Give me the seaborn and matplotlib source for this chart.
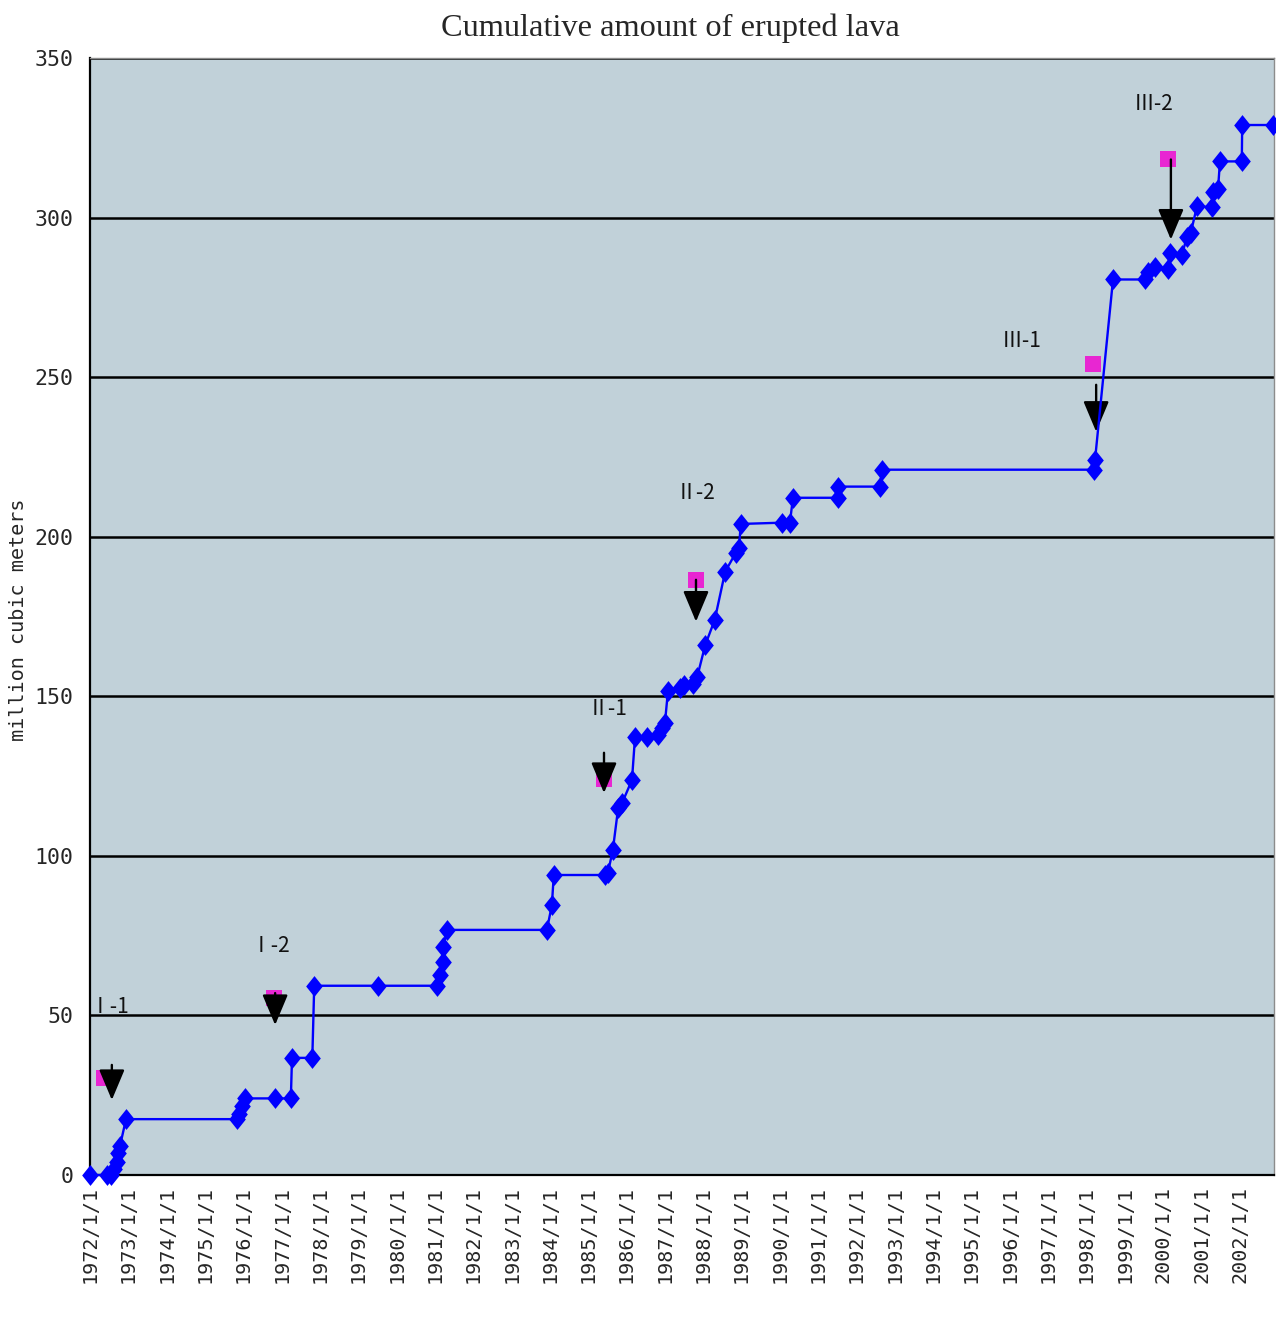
import matplotlib
matplotlib.use("Agg")
import matplotlib.pyplot as plt
import seaborn as sns
import pandas as pd
from matplotlib.path import Path

# ---- data (decimal years, million m^3) ----
years = [1972.00, 1972.45, 1972.55, 1972.62, 1972.70, 1972.74, 1972.78, 1972.94,
         1975.83, 1975.90, 1975.97, 1976.05, 1976.83, 1977.24, 1977.27, 1977.80,
         1977.85, 1979.51, 1981.05, 1981.13, 1981.20, 1981.22, 1981.31,
         1983.92, 1984.05, 1984.10, 1985.44, 1985.51, 1985.64, 1985.78, 1985.88,
         1986.14, 1986.22, 1986.53, 1986.82, 1986.92, 1987.00, 1987.08, 1987.39,
         1987.50, 1987.73, 1987.84, 1988.05, 1988.30, 1988.57, 1988.85, 1988.93,
         1988.98, 1990.05, 1990.26, 1990.34, 1991.51, 1991.52, 1992.61, 1992.66,
         1998.20, 1998.22, 1998.69, 1999.52, 1999.60, 1999.78, 2000.12, 2000.18,
         2000.49, 2000.62, 2000.72, 2000.88, 2001.27, 2001.29, 2001.43, 2001.48,
         2002.05, 2002.06, 2002.86]
volume = [0, 0, 0, 2, 4, 7, 9, 17.5,
          17.5, 19, 21.5, 24, 24, 24, 36.7, 36.7,
          59.3, 59.3, 59.3, 62.7, 66.8, 71.5, 76.8,
          76.8, 84.6, 94, 94, 94.6, 101.8, 115, 116.5,
          123.8, 137.3, 137.3, 138, 140, 141.7, 151.8, 152.5,
          153.5, 154, 156, 166, 174, 189, 195, 196.5,
          204, 204.4, 204.4, 212.2, 212.2, 215.7, 215.7, 221,
          221, 224, 280.6, 280.6, 282.8, 284.6, 284, 289,
          288.4, 294, 295.3, 303.5, 303.3, 308, 309, 317.6,
          317.6, 329, 329]

phase_labels = ["Ⅰ-1", "Ⅰ-2", "Ⅱ-1", "Ⅱ-2", "Ⅲ-1", "Ⅲ-2"]
label_x = [1972.52, 1976.72, 1985.49, 1987.81, 1996.32, 1999.76]
label_y = [52.7, 71.8, 146.1, 213.8, 261.4, 335.7]
square_x = [1972.37, 1976.80, 1985.41, 1987.81, 1998.17, 2000.12]
square_y = [30.4, 55.5, 124.0, 186.5, 254.2, 318.2]
arrow_x = [1972.57, 1976.83, 1985.41, 1987.81, 1998.25, 2000.20]
arrow_top = [34.5, 57.0, 132.3, 186.5, 247.6, 318.2]
arrow_tip = [23.5, 47.0, 119.7, 173.4, 232.9, 293.1]

tick_years = list(range(1972, 2003))
tick_labels = [f"{y}/1/1" for y in tick_years]
y_ticks = [0, 50, 100, 150, 200, 250, 300, 350]

title = "Cumulative amount of erupted lava"
ylabel = "million cubic meters"

# ---- figure ----
sns.set_style("white")
plt.rcParams['font.family'] = ['DejaVu Sans', 'Noto Sans CJK JP']

fig = plt.figure(figsize=(12.76, 13.2), dpi=100)
ax = fig.add_axes([90 / 1276, 145 / 1320, 1184 / 1276, 1117 / 1320])
ax.set_facecolor("#C1D1D9")

df = pd.DataFrame({"year": years, "volume": volume})
diamond = Path([(0, 1), (0.8, 0), (0, -1), (-0.8, 0), (0, 1)],
               [Path.MOVETO, Path.LINETO, Path.LINETO, Path.LINETO, Path.CLOSEPOLY])
sns.lineplot(data=df, x="year", y="volume", estimator=None, sort=False,
             color="#0000FF", linewidth=1.7, marker=diamond, markersize=15,
             markeredgewidth=0, markerfacecolor="#0000FF", ax=ax, zorder=4,
             clip_on=False)

sq = pd.DataFrame({"x": square_x, "y": square_y})
sns.scatterplot(data=sq, x="x", y="y", marker="s", s=125, color="#E826D2",
                linewidth=0, ax=ax, zorder=3)

for xa, yt, yb in zip(arrow_x, arrow_top, arrow_tip):
    ax.annotate("", xy=(xa, yb), xytext=(xa, yt),
                arrowprops=dict(arrowstyle="-|>,head_length=1.0,head_width=0.42",
                                color="black", lw=1.7, mutation_scale=19,
                                shrinkA=0, shrinkB=0), zorder=3.5)

for t, lx, ly in zip(phase_labels, label_x, label_y):
    ax.text(lx, ly, t, ha="center", va="center", fontsize=15,
            family=['Noto Sans CJK JP', 'DejaVu Sans'], color="#111111", zorder=3)

ax.set_xlim(1972.0, 2002.89)
ax.set_ylim(0, 350)
ax.set_xticks(tick_years)
ax.set_xticklabels(tick_labels, rotation=90, family="DejaVu Sans Mono", fontsize=14.5)
ax.set_yticks(y_ticks)
ax.set_yticklabels([str(v) for v in y_ticks], family="DejaVu Sans Mono", fontsize=15.5)
ax.tick_params(axis="x", direction="in", length=6, width=1.2, pad=8, color="black")
ax.tick_params(axis="y", direction="in", length=4, width=1.2, pad=12, color="black")

ax.yaxis.grid(True, color="black", linewidth=1.8)
ax.xaxis.grid(False)
ax.set_axisbelow(True)

for side in ["left", "bottom"]:
    ax.spines[side].set_color("black")
    ax.spines[side].set_linewidth(1.6)
for side in ["top", "right"]:
    ax.spines[side].set_color("#8c8c8c")
    ax.spines[side].set_linewidth(1.0)

ax.set_xlabel("")
ax.set_ylabel(ylabel, family="DejaVu Sans Mono", fontsize=14.5)
ax.yaxis.set_label_coords(-62 / 1184, 0.497)
fig.text(670 / 1276, 1 - 28 / 1320, title, family="Liberation Serif", fontsize=23.3,
         ha="center", va="center")

fig.savefig("out.png", dpi=100)
